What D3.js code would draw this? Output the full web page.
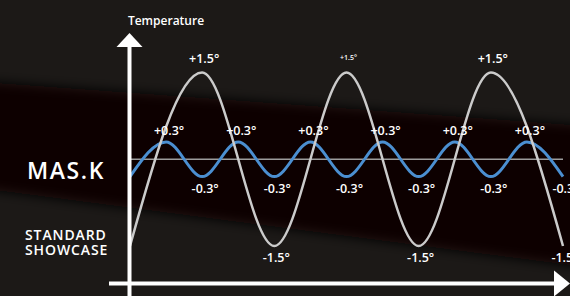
<!DOCTYPE html>
<html lang="en">
<head>
  <meta charset="UTF-8">
  <title>MAS.K vs Standard Showcase temperature</title>
  <script src="https://d3js.org/d3.v7.min.js"></script>
  <style>
    html, body { margin: 0; padding: 0; background: #1b1816; }
    svg { display: block; }
    text { font-family: "Open Sans", "DejaVu Sans", sans-serif; fill: #fff; }
  </style>
</head>
<body>
  <div id="chart"></div>
  <script>
    // Time steps (half periods of the MAS.K swing)
    const steps = [0, 1, 2, 3, 4, 5, 6, 7, 8, 9, 10, 11, 12];
    // MAS.K temperature deviation at each step
    const maskTemps = [-0.3, 0.3, -0.3, 0.3, -0.3, 0.3, -0.3, 0.3, -0.3, 0.3, -0.3, 0.3, -0.3];
    // Standard showcase temperature deviation (extremes every other step)
    const standardSteps = [0, 2, 4, 6, 8, 10, 12];
    const standardTemps = [-1.5, 1.5, -1.5, 1.5, -1.5, 1.5, -1.5];
    const seriesNames = ['MAS.K', 'STANDARD', 'SHOWCASE'];
    const yTitle = 'Temperature';

    const width = 570;
    const height = 296;

    const x = d3.scaleLinear().domain([0, 12]).range([130, 563]);
    const y = d3.scaleLinear().domain([-1.5, 1.5]).range([246, 72.5]);

    const svg = d3.select('#chart')
      .append('svg')
      .attr('width', width)
      .attr('height', height);

    // background with the dark diagonal band
    const defs = svg.append('defs');
    defs.append('filter').attr('id', 'soft')
      .attr('x', '-20%').attr('y', '-20%').attr('width', '140%').attr('height', '140%')
      .append('feGaussianBlur').attr('stdDeviation', 6);

    svg.append('rect').attr('width', width).attr('height', height).attr('fill', '#1c1917');
    svg.append('polygon')
      .attr('points', '-40,80 620,128 620,272 -40,186')
      .attr('fill', '#070606')
      .attr('filter', 'url(#soft)');

    const fmt = v => (v > 0 ? '+' : '') + v.toFixed(1) + '°';

    // zero reference line
    svg.append('line')
      .attr('x1', x(0)).attr('x2', x(12))
      .attr('y1', y(0)).attr('y2', y(0))
      .attr('stroke', '#9c9c9c')
      .attr('stroke-width', 1.5);

    // MAS.K wave
    const maskData = steps.map((s, i) => ({ s, v: maskTemps[i] }));
    svg.append('path')
      .datum(maskData)
      .attr('fill', 'none')
      .attr('stroke', '#4b8fd1')
      .attr('stroke-width', 3)
      .attr('d', d3.line().x(d => x(d.s)).y(d => y(d.v)).curve(d3.curveMonotoneX));

    // standard showcase wave
    const standardData = standardSteps.map((s, i) => ({ s, v: standardTemps[i] }));
    svg.append('path')
      .datum(standardData)
      .attr('fill', 'none')
      .attr('stroke', '#cbcbcb')
      .attr('stroke-width', 2.5)
      .attr('d', d3.line().x(d => x(d.s)).y(d => y(d.v)).curve(d3.curveMonotoneX));

    // axes with arrow heads
    const axisX = x(0) - 0.5;
    const axisY = 283.5;
    svg.append('line')
      .attr('x1', axisX).attr('x2', axisX)
      .attr('y1', height).attr('y2', 46)
      .attr('stroke', '#fff').attr('stroke-width', 4);
    svg.append('path')
      .attr('d', `M${axisX},33 L${axisX + 13},47 L${axisX - 13},47 Z`)
      .attr('fill', '#fff');
    svg.append('line')
      .attr('x1', 109).attr('x2', 556)
      .attr('y1', axisY).attr('y2', axisY)
      .attr('stroke', '#fff').attr('stroke-width', 4);
    svg.append('path')
      .attr('d', `M570,${axisY} L554,${axisY - 13} L554,${axisY + 13} Z`)
      .attr('fill', '#fff');

    svg.append('text')
      .attr('x', 166).attr('y', 25)
      .attr('text-anchor', 'middle')
      .attr('font-size', 12)
      .attr('font-weight', 600)
      .text(yTitle);

    // MAS.K labels (skip the starting point on the axis)
    svg.selectAll('.mask-label')
      .data(maskData.filter(d => d.s > 0))
      .enter()
      .append('text')
      .attr('class', 'mask-label')
      .attr('x', d => x(d.s) + 3)
      .attr('y', d => d.v > 0 ? 135 : 193)
      .attr('text-anchor', 'middle')
      .attr('font-size', 12.5)
      .attr('font-weight', 600)
      .text(d => fmt(d.v));

    // standard showcase labels
    svg.selectAll('.std-label')
      .data(standardData.filter(d => d.s > 0))
      .enter()
      .append('text')
      .attr('class', 'std-label')
      .attr('x', d => x(d.s) + 2)
      .attr('y', d => d.v > 0 ? (d.s === 6 ? 59.5 : 62.5) : 262)
      .attr('text-anchor', 'middle')
      .attr('font-size', d => d.s === 6 ? 7 : 12.5)
      .attr('font-weight', 600)
      .text(d => fmt(d.v));

    // series names
    svg.append('text')
      .attr('x', 27).attr('y', 178.5)
      .attr('font-size', 23)
      .attr('font-weight', 600)
      .attr('letter-spacing', 1.6)
      .text(seriesNames[0]);
    svg.append('text')
      .attr('x', 25).attr('y', 240)
      .attr('font-size', 14)
      .attr('font-weight', 600)
      .attr('letter-spacing', 0.9)
      .text(seriesNames[1]);
    svg.append('text')
      .attr('x', 25).attr('y', 254.5)
      .attr('font-size', 14)
      .attr('font-weight', 600)
      .attr('letter-spacing', 0.9)
      .text(seriesNames[2]);
  </script>
</body>
</html>
